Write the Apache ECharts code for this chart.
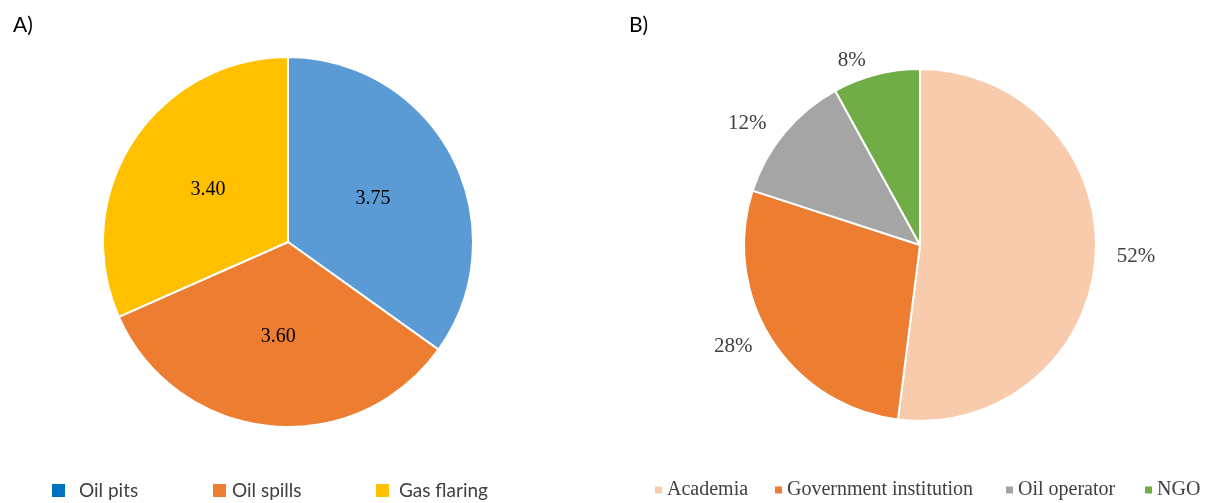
<!DOCTYPE html>
<html>
<head>
<meta charset="utf-8">
<script src="https://cdn.jsdelivr.net/npm/echarts@6/dist/echarts.min.js"></script>
<style>
html,body{margin:0;padding:0;background:#fff;}
#c{width:1212px;height:503px;}
</style>
</head>
<body>
<div id="c"></div>
<script>
// Panel A
var sourcesA = ['Oil pits', 'Oil spills', 'Gas flaring'];
var valuesA = [3.75, 3.60, 3.40];
var colorsA = ['#5B9BD5', '#ED7D31', '#FFC000'];
var legendColorsA = ['#0070C0', '#ED7D31', '#FFC000'];
// Panel B
var groupsB = ['Academia', 'Government institution', 'Oil operator', 'NGO'];
var valuesB = [52, 28, 12, 8];
var colorsB = ['#F8CBAD', '#ED7D31', '#A5A5A5', '#70AD47'];

var chart = echarts.init(document.getElementById('c'));

var legendA_left = [52, 213, 376];
var legendA_pad = [9, 1, 5];
var legendB_left = [655, 775, 1006, 1145];

var legends = [];
sourcesA.forEach(function (n, i) {
  legends.push({
    left: legendA_left[i], top: 481, padding: 0,
    icon: 'rect', itemWidth: 13, itemHeight: 13,
    selectedMode: false,
    itemStyle: { borderWidth: 0 },
    data: [{ name: n, itemStyle: { color: legendColorsA[i], borderWidth: 0 } }],
    textStyle: { fontFamily: 'Lato', fontSize: 19, color: '#404040', padding: [0, 0, 8, legendA_pad[i]] }
  });
});
groupsB.forEach(function (n, i) {
  legends.push({
    left: legendB_left[i], top: 480, padding: 0,
    icon: 'rect', itemWidth: 7, itemHeight: 7,
    selectedMode: false,
    itemStyle: { borderWidth: 0 },
    data: [{ name: n, itemStyle: { borderWidth: 0 } }],
    textStyle: { fontFamily: 'Liberation Serif', fontSize: 20, color: '#404040' }
  });
});

chart.setOption({
  animation: false,
  title: [
    { text: 'A)', left: 8, top: 10, textStyle: { fontFamily: 'Lato', fontSize: 21, fontWeight: 'normal', color: '#000' } },
    { text: 'B)', left: 624, top: 10, textStyle: { fontFamily: 'Lato', fontSize: 21, fontWeight: 'normal', color: '#000' } }
  ],
  legend: legends,
  series: [
    {
      type: 'pie',
      center: [288, 242],
      radius: [0, 185],
      startAngle: 90,
      clockwise: true,
      avoidLabelOverlap: false,
      itemStyle: { borderColor: '#fff', borderWidth: 2 },
      label: {
        show: true, position: 'inside',
        fontFamily: 'Liberation Serif', fontSize: 20, color: '#000',
        formatter: function (p) { return p.value.toFixed(2); }
      },
      labelLine: { show: false },
      data: sourcesA.map(function (n, i) { return { name: n, value: valuesA[i], itemStyle: { color: colorsA[i] } }; })
    },
    {
      type: 'pie',
      center: [920, 245],
      radius: [0, 176],
      startAngle: 90,
      clockwise: true,
      avoidLabelOverlap: false,
      itemStyle: { borderColor: '#fff', borderWidth: 2 },
      label: {
        show: true, position: 'outside',
        fontFamily: 'Liberation Serif', fontSize: 21, color: '#404040',
        formatter: function (p) { return p.value + '%'; }
      },
      labelLine: { show: false, length: 14, length2: 2 },
      data: groupsB.map(function (n, i) { return { name: n, value: valuesB[i], itemStyle: { color: colorsB[i] } }; })
    }
  ]
});
</script>
</body>
</html>
